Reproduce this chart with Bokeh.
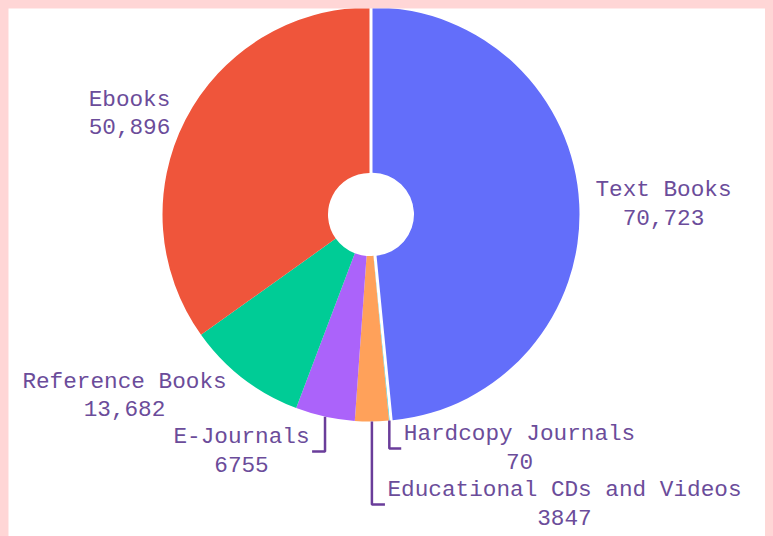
import numpy as np
from bokeh.plotting import figure
from bokeh.models import Range1d, ColumnDataSource
from bokeh.embed import file_html
from bokeh.resources import INLINE
from bokeh.core.properties import value

# ---- data ----
categories = ["Text Books", "Hardcopy Journals", "Educational CDs and Videos",
              "E-Journals", "Reference Books", "Ebooks"]
counts = [70723, 70, 3847, 6755, 13682, 50896]
colors = ["#636efa", "#19d3f3", "#FFA15A", "#ab63fa", "#00cc96", "#EF553B"]

# ---- layout / style ----
W, H = 757, 528
PAGE_BG = "#ffd6d6"
FONT = "Liberation Mono"
FONT_PX = 22.7
TEXT_COLOR = "#6b4c9a"
LEADER_COLOR = "#6a3d9a"


def to_data(px_x, px_y):
    return px_x - 8, (H + 8) - px_y


cx, cy = to_data(369, 214)
R_OUT = 207
R_IN = 41.5
pulls = [3, 0, 0, 0, 0, 0]
# label block centres (page pixels) and whether a leader line is drawn
label_px = [(663, 204), (519, 448), (564, 504), (241, 451), (124, 395.5), (129, 113.5)]
leaders = [False, True, True, True, False, False]
GAP = 2.5

# ---- computations ----
vals = np.array(counts, dtype=float)
frac = vals / vals.sum()
cum = np.cumsum(frac)
start_cw = (cum - frac) * 2 * np.pi
end_cw = cum * 2 * np.pi
mid_cw = (start_cw + end_cw) / 2
pull_arr = np.array(pulls, dtype=float)
ox = cx + pull_arr * np.sin(mid_cw)
oy = cy + pull_arr * np.cos(mid_cw)

wedges = ColumnDataSource(dict(
    x=ox, y=oy,
    start=np.pi / 2 - start_cw,
    end=np.pi / 2 - end_cw,
    color=colors,
    name=categories,
))


def fmt(v):
    return f"{v:,}" if v >= 10000 else str(v)


texts = [f"{c}\n{fmt(v)}" for c, v in zip(categories, counts)]
lx, ly = zip(*[to_data(a, b) for a, b in label_px])
labels = ColumnDataSource(dict(x=list(lx), y=list(ly), text=texts))

char_w = 0.6 * FONT_PX
xs, ys = [], []
for i, has in enumerate(leaders):
    if not has:
        continue
    sx = ox[i] + R_OUT * np.sin(mid_cw[i])
    sy = oy[i] + R_OUT * np.cos(mid_cw[i])
    half = max(len(s) for s in texts[i].split("\n")) * char_w / 2
    if lx[i] < sx:
        ex = lx[i] + half + GAP
    else:
        ex = lx[i] - half - GAP
    xs.append([sx, sx, ex])
    ys.append([sy, ly[i], ly[i]])

# ---- figure ----
p = figure(width=W, height=H, output_backend="svg", toolbar_location=None,
           x_range=Range1d(0, W), y_range=Range1d(0, H), min_border=0,
           background_fill_color="white", border_fill_color="white")
p.axis.visible = False
p.xgrid.visible = False
p.ygrid.visible = False
p.outline_line_color = None

p.annular_wedge(x="x", y="y", inner_radius=R_IN, outer_radius=R_OUT,
                start_angle="start", end_angle="end", direction="clock",
                fill_color="color", line_color=None, source=wedges)

p.multi_line(xs=xs, ys=ys, line_color=LEADER_COLOR, line_width=2.5)

p.text(x="x", y="y", text="text", source=labels,
       text_font=value(FONT), text_font_size=f"{FONT_PX}px",
       text_color=TEXT_COLOR, text_align="center", text_baseline="middle",
       text_line_height=1.1)

html = file_html(p, INLINE, title="Library resources")
head, sep, rest = html.rpartition("</head>")
rest = rest.replace("<body>", f'<body style="background-color:{PAGE_BG}; margin:8px; '
                              f'height:auto; overflow:hidden;">', 1)
html = head + sep + rest
open("out.html", "w").write(html)
